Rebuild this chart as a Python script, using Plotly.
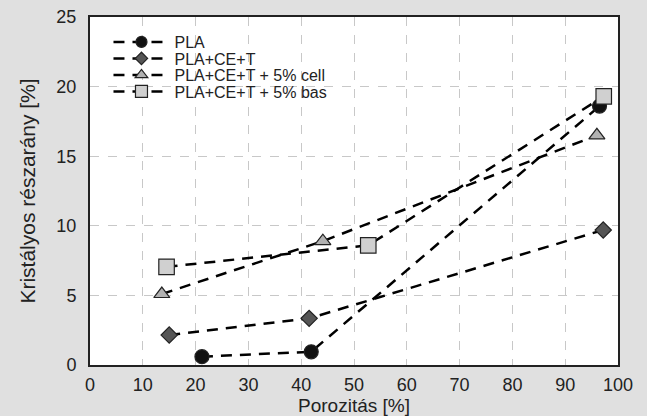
import plotly.graph_objects as go

x_pla = [21.2, 41.9, 96.5]
y_pla = [0.6, 0.95, 18.6]
x_cet = [15.0, 41.5, 97.2]
y_cet = [2.15, 3.35, 9.7]
x_cell = [13.6, 44.1, 96.0]
y_cell = [5.1, 8.9, 16.5]
x_bas = [14.5, 52.7, 97.3]
y_bas = [7.05, 8.6, 19.3]

names = ["PLA", "PLA+CE+T", "PLA+CE+T + 5% cell", "PLA+CE+T + 5% bas"]
xs_all = [x_pla, x_cet, x_cell, x_bas]
ys_all = [y_pla, y_cet, y_cell, y_bas]
symbols = ["circle", "diamond", "triangle-up", "square"]
colors = ["#111111", "#555555", "#b2b2b2", "#d0d0d0"]
sizes = [14, 12.5, 14, 15.5]
legend_sizes = [11, 9.5, 11, 12]

# legend row centres (pixels from top of figure)
row_px = [42, 58.5, 75, 91.5]
plot_top, plot_bot = 17, 365

fig = go.Figure()
dash = "11px,8px"
for i in range(4):
    fig.add_trace(go.Scatter(
        x=xs_all[i], y=ys_all[i], name=names[i], mode="lines+markers",
        line=dict(color="black", width=2.5, dash=dash),
        marker=dict(symbol=symbols[i], size=sizes[i], color=colors[i],
                    line=dict(color="#222222", width=1.2)),
        showlegend=False,
    ))
for i in range(4):
    lg = "legend" if i == 0 else f"legend{i+1}"
    fig.add_trace(go.Scatter(
        x=[None], y=[None], name=names[i], mode="lines+markers",
        line=dict(color="black", width=2.5, dash=dash),
        marker=dict(symbol=symbols[i], size=legend_sizes[i], color=colors[i],
                    line=dict(color="#222222", width=1.2)),
        showlegend=True, legend=lg,
    ))

font = "Liberation Sans, Arial, sans-serif"
layout_legends = {}
for i in range(4):
    key = "legend" if i == 0 else f"legend{i+1}"
    ypaper = (plot_bot - row_px[i]) / (plot_bot - plot_top)
    layout_legends[key] = dict(
        x=0.035, y=ypaper, xanchor="left", yanchor="middle",
        bgcolor="rgba(0,0,0,0)",
        font=dict(family=font, size=16, color="#222222"),
        itemwidth=56, borderwidth=0,
    )

fig.update_layout(
    width=647, height=416,
    margin=dict(l=90, r=29, t=17, b=51, autoexpand=False),
    paper_bgcolor="#e0e0e0",
    plot_bgcolor="white",
    font=dict(family=font, size=16, color="#222222"),
    showlegend=True,
    **layout_legends,
)
fig.update_xaxes(
    range=[0, 100], dtick=10, tick0=0, automargin=False,
    showline=True, linecolor="#222222", linewidth=2, mirror=True,
    showgrid=True, gridcolor="#c8c8c8", gridwidth=1, griddash="dash",
    zeroline=False, ticks="outside", ticklen=2, tickcolor="rgba(0,0,0,0)",
    tickfont=dict(size=18),
    title=dict(text="Porozitás [%]", font=dict(size=19), standoff=4),
)
fig.update_yaxes(
    range=[0, 25], dtick=5, tick0=0, automargin=False,
    showline=True, linecolor="#222222", linewidth=2, mirror=True,
    showgrid=True, gridcolor="#c8c8c8", gridwidth=1, griddash="dash",
    zeroline=False, ticks="outside", ticklen=8, tickcolor="rgba(0,0,0,0)",
    tickfont=dict(size=18),
    title=dict(text="Kristályos részarány [%]", font=dict(size=21), standoff=15),
)
fig.write_html(
    "out.html",
    config={"displayModeBar": False},
    post_script="document.body.style.margin='0px';document.body.style.background='#e0e0e0';",
)
